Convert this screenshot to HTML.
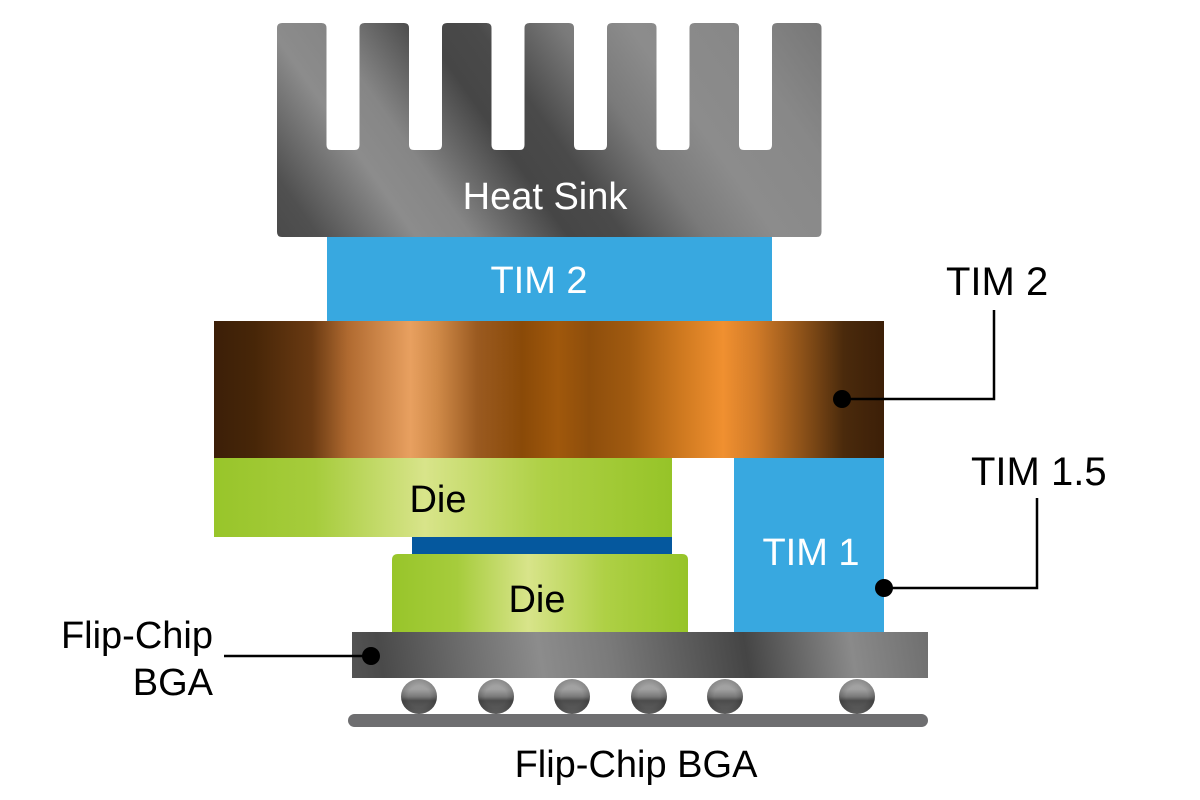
<!DOCTYPE html>
<html>
<head>
<meta charset="utf-8">
<style>
html,body{margin:0;padding:0;background:#fff;}
svg{display:block;}
text{font-family:"Liberation Sans",sans-serif;}
</style>
</head>
<body>
<svg width="1200" height="800" viewBox="0 0 1200 800" xmlns="http://www.w3.org/2000/svg">
<defs>
<linearGradient id="hs" gradientUnits="userSpaceOnUse" x1="316.5" y1="293.3" x2="782.5" y2="-33.3">
<stop offset="0" stop-color="#4a4a4a"/>
<stop offset="0.06" stop-color="#505050"/>
<stop offset="0.2" stop-color="#8c8c8c"/>
<stop offset="0.28" stop-color="#868686"/>
<stop offset="0.42" stop-color="#464646"/>
<stop offset="0.5" stop-color="#4a4a4a"/>
<stop offset="0.62" stop-color="#7a7a7a"/>
<stop offset="0.72" stop-color="#8c8c8c"/>
<stop offset="0.86" stop-color="#888888"/>
<stop offset="1" stop-color="#777777"/>
</linearGradient>
<linearGradient id="cu" x1="0" y1="0" x2="1" y2="0">
<stop offset="0" stop-color="#3c1f08"/>
<stop offset="0.06" stop-color="#472608"/>
<stop offset="0.146" stop-color="#6a3a12"/>
<stop offset="0.2" stop-color="#b06a30"/>
<stop offset="0.293" stop-color="#e8a060"/>
<stop offset="0.333" stop-color="#d08a48"/>
<stop offset="0.393" stop-color="#9a5a20"/>
<stop offset="0.46" stop-color="#8a4a08"/>
<stop offset="0.513" stop-color="#a0580c"/>
<stop offset="0.56" stop-color="#8e4e0c"/>
<stop offset="0.62" stop-color="#a05a10"/>
<stop offset="0.7" stop-color="#d07a20"/>
<stop offset="0.76" stop-color="#f09030"/>
<stop offset="0.81" stop-color="#d07a28"/>
<stop offset="0.88" stop-color="#8a5018"/>
<stop offset="0.94" stop-color="#4a2a0c"/>
<stop offset="1" stop-color="#3c1f08"/>
</linearGradient>
<linearGradient id="die" x1="0" y1="0" x2="1" y2="0">
<stop offset="0" stop-color="#98c52a"/>
<stop offset="0.22" stop-color="#a6cc3c"/>
<stop offset="0.46" stop-color="#d8e48a"/>
<stop offset="0.72" stop-color="#aed045"/>
<stop offset="1" stop-color="#96c428"/>
</linearGradient>
<linearGradient id="sub" gradientUnits="userSpaceOnUse" x1="352" y1="700" x2="928" y2="610">
<stop offset="0" stop-color="#555555"/>
<stop offset="0.06" stop-color="#4a4a4a"/>
<stop offset="0.33" stop-color="#8c8c8c"/>
<stop offset="0.45" stop-color="#7a7a7a"/>
<stop offset="0.68" stop-color="#454545"/>
<stop offset="0.86" stop-color="#8a8a8a"/>
<stop offset="1" stop-color="#6e6e6e"/>
</linearGradient>
<linearGradient id="ballv" x1="0" y1="0" x2="0" y2="1">
<stop offset="0" stop-color="#a8a8a8"/>
<stop offset="0.3" stop-color="#a0a0a0"/>
<stop offset="0.5" stop-color="#7a7a7a"/>
<stop offset="0.62" stop-color="#4c4c4c"/>
<stop offset="0.85" stop-color="#5a5a5a"/>
<stop offset="1" stop-color="#6e6e6e"/>
</linearGradient>
<radialGradient id="ballh" cx="0.5" cy="0.5" r="0.5">
<stop offset="0.6" stop-color="#000" stop-opacity="0"/>
<stop offset="1" stop-color="#000" stop-opacity="0.18"/>
</radialGradient>
</defs>

<!-- Heat sink -->
<path fill="url(#hs)" d="M277,28 Q277,23 282,23 H321.5 Q326.5,23 326.5,28 V145 Q326.5,150 331.5,150 H354.5 Q359.5,150 359.5,145 V28 Q359.5,23 364.5,23 H404 Q409,23 409,28 V145 Q409,150 414,150 H437 Q442,150 442,145 V28 Q442,23 447,23 H486.5 Q491.5,23 491.5,28 V145 Q491.5,150 496.5,150 H519.5 Q524.5,150 524.5,145 V28 Q524.5,23 529.5,23 H569 Q574,23 574,28 V145 Q574,150 579,150 H602 Q607,150 607,145 V28 Q607,23 612,23 H651.5 Q656.5,23 656.5,28 V145 Q656.5,150 661.5,150 H684.5 Q689.5,150 689.5,145 V28 Q689.5,23 694.5,23 H734 Q739,23 739,28 V145 Q739,150 744,150 H767 Q772,150 772,145 V28 Q772,23 777,23 H816.5 Q821.5,23 821.5,28 V232 Q821.5,237 816.5,237 H282 Q277,237 277,232 Z"/>
<text x="545" y="209" font-size="38" fill="#ffffff" text-anchor="middle">Heat Sink</text>

<!-- TIM 2 -->
<rect x="327" y="237" width="445" height="85" fill="#38a8e0"/>
<text x="539" y="293" font-size="38" fill="#ffffff" text-anchor="middle">TIM 2</text>

<!-- Copper spreader -->
<rect x="214" y="321" width="670" height="137" fill="url(#cu)"/>

<!-- Top die -->
<rect x="214" y="458" width="458" height="79" fill="url(#die)"/>
<text x="438" y="512" font-size="38" fill="#000" text-anchor="middle">Die</text>

<!-- Dark blue strip -->
<rect x="412" y="537" width="260" height="17" fill="#05589e"/>

<!-- Bottom die -->
<path d="M392,632 V560 Q392,554 398,554 H682 Q688,554 688,560 V632 Z" fill="url(#die)"/>
<text x="537" y="612" font-size="38" fill="#000" text-anchor="middle">Die</text>

<!-- TIM 1 -->
<rect x="734" y="458" width="150" height="174" fill="#38a8e0"/>
<text x="811" y="565" font-size="38" fill="#ffffff" text-anchor="middle">TIM 1</text>

<!-- Substrate -->
<rect x="352" y="632" width="576" height="46" fill="url(#sub)"/>

<!-- Balls -->
<g>
<ellipse cx="419" cy="696.5" rx="18" ry="17.5" fill="url(#ballv)"/>
<ellipse cx="496" cy="696.5" rx="18" ry="17.5" fill="url(#ballv)"/>
<ellipse cx="572" cy="696.5" rx="18" ry="17.5" fill="url(#ballv)"/>
<ellipse cx="649" cy="696.5" rx="18" ry="17.5" fill="url(#ballv)"/>
<ellipse cx="725" cy="696.5" rx="18" ry="17.5" fill="url(#ballv)"/>
<ellipse cx="857" cy="696.5" rx="18" ry="17.5" fill="url(#ballv)"/>
<ellipse cx="419" cy="696.5" rx="18" ry="17.5" fill="url(#ballh)"/>
<ellipse cx="496" cy="696.5" rx="18" ry="17.5" fill="url(#ballh)"/>
<ellipse cx="572" cy="696.5" rx="18" ry="17.5" fill="url(#ballh)"/>
<ellipse cx="649" cy="696.5" rx="18" ry="17.5" fill="url(#ballh)"/>
<ellipse cx="725" cy="696.5" rx="18" ry="17.5" fill="url(#ballh)"/>
<ellipse cx="857" cy="696.5" rx="18" ry="17.5" fill="url(#ballh)"/>
</g>

<!-- Base board -->
<rect x="348" y="714" width="580" height="13" rx="6.5" ry="6.5" fill="#6e6e70"/>

<!-- Annotations -->
<polyline points="842,399 994,399 994,310" fill="none" stroke="#000" stroke-width="2.5"/>
<circle cx="842" cy="399" r="9" fill="#000"/>
<text x="946" y="295" font-size="40" fill="#000">TIM 2</text>

<polyline points="884,588 1037,588 1037,498" fill="none" stroke="#000" stroke-width="2.5"/>
<circle cx="884" cy="588" r="9" fill="#000"/>
<text x="971" y="485" font-size="40" fill="#000">TIM 1.5</text>

<line x1="224" y1="656" x2="371" y2="656" stroke="#000" stroke-width="2.5"/>
<circle cx="371" cy="656" r="9" fill="#000"/>
<text x="213" y="648" font-size="38" fill="#000" text-anchor="end">Flip-Chip</text>
<text x="213" y="695" font-size="38" fill="#000" text-anchor="end">BGA</text>

<text x="636" y="777" font-size="38" fill="#000" text-anchor="middle">Flip-Chip BGA</text>
</svg>
</body>
</html>
